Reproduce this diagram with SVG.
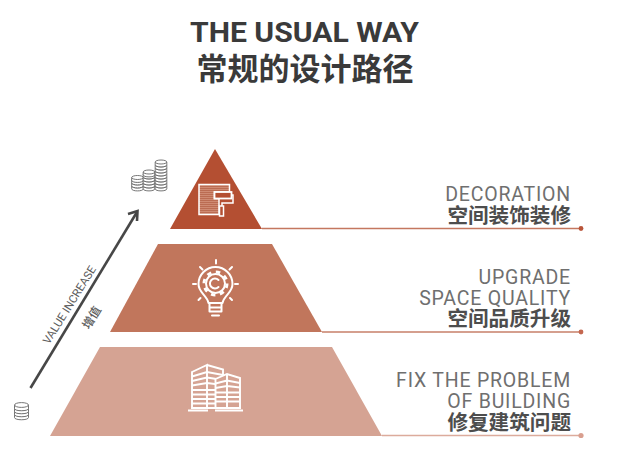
<svg xmlns="http://www.w3.org/2000/svg" width="639" height="462" viewBox="0 0 639 462">
<defs>
<style>
.t{font-family:"Roboto","Liberation Sans","Noto Sans CJK SC",sans-serif;fill:#4a4a4a}
.title{font-size:28px;font-weight:700;text-anchor:middle;fill:#3a3a3a}
.cn{font-family:"Noto Sans CJK SC",sans-serif;font-weight:700;fill:#4d4d4d}
.lb{font-size:19.5px;fill:#6f6f6f;text-anchor:end;letter-spacing:.8px}
.lc{font-size:20.6px;text-anchor:end}
.w{fill:none;stroke:#fff;stroke-width:2;stroke-linecap:round;stroke-linejoin:round}
.c{fill:#fff;stroke:#666;stroke-width:.9}
</style>
<pattern id="hatch" width="2" height="2" patternUnits="userSpaceOnUse"><rect width="2" height="2" fill="#cf8a72"/><rect width="2" height="1" fill="#bb6c52"/></pattern>
<g id="coin"><path class="c" d="M-5.800 0v2.800c0 2.800 11.600 2.800 11.600 0v-2.800"/><ellipse class="c" cx="0" cy="0" rx="5.800" ry="2"/></g>
<g id="coinS"><path class="c" d="M-7 0v3.500c0 3 14 3 14 0v-3.500"/><ellipse class="c" cx="0" cy="0" rx="7" ry="2.400"/></g>
</defs>
<g id="title">
<text class="t title" x="304.500" y="42" textLength="229" lengthAdjust="spacingAndGlyphs">THE USUAL WAY</text>
<text class="cn" x="305" y="80" font-size="31" text-anchor="middle" style="fill:#3a3a3a">常规的设计路径</text>
</g>
<g id="connectors" fill="none">
<path d="M262 228.500H581" stroke="#c4775f" stroke-width="1.600"/>
<circle cx="581" cy="228.500" r="2.400" fill="#b9553a"/>
<path d="M322 332H581" stroke="#c77f68" stroke-width="1.600"/>
<circle cx="581" cy="332" r="2.400" fill="#c4674f"/>
<path d="M382 435.500H581" stroke="#dcab9c" stroke-width="1.600"/>
<circle cx="581" cy="435.500" r="2.600" fill="#d99f8f"/>
<path d="M30.500 388L137 212" stroke="#474747" stroke-width="2.600"/>
<path d="M128 214L137.500 211L137 221" stroke="#474747" stroke-width="2.600" stroke-linejoin="miter"/>
</g>
<g id="node-top">
<path d="M215 149L262 229H170Z" fill="#b44f32"/>
<path d="M199 184.500H229.500V192H214.500V198.500H219V214.500H199Z" fill="url(#hatch)" stroke="#fff" stroke-width="1.500"/>
<rect x="214.500" y="192" width="17" height="6.500" fill="#b44f32" stroke="#fff" stroke-width="1.800"/>
<path d="M231.500 195H233V203H222V206" fill="none" stroke="#fff" stroke-width="1.500"/>
<rect x="219.500" y="206" width="4" height="10" fill="#b44f32" stroke="#fff" stroke-width="1.500"/>
</g>
<g id="node-middle">
<path d="M158 244H272L322 332H110Z" fill="#c1765c"/>
<g class="w">
<path d="M208.500 303C207 295 198.500 293 198.500 284A17 17 0 1 1 232.500 284C232.500 293 224 295 222.500 303Z"/>
<path d="M209.500 303V311.500H221.500V303M209.500 307.500H221.500M212 315.500H219"/>
<path d="M218.500 280A5 5 0 1 0 218.500 287"/>
<circle cx="215.500" cy="283.500" r="9.500"/>
<circle cx="215.500" cy="283.500" r="11.500" stroke-width="3" stroke-dasharray="4.400 4.630" style="stroke-width:3;stroke-linecap:butt"/>
<path d="M216 260V263.500M200 267L202.500 269.500M232 267L229.500 269.500M193 284H196M235 284H238M198.500 300L200.500 298M232 300L230 298"/>
</g>
</g>
<g id="node-bottom">
<path d="M100 347H332L382 436H50Z" fill="#d5a393"/>
<g fill="none" stroke="#fff" stroke-width="1.900">
<path d="M192 372L207 365V408H192Z"/>
<path d="M207 365L223 369.500V408H207"/>
<path d="M192 376.500L207 372L223 375M192 381L207 377.500L223 380M192 385.500L207 383L223 385M192 390H223M192 394.500H223M192 399H223M192 403.500H223"/>
<path d="M215.500 379L227 374L240 378V408H215.500Z" fill="#d5a393"/>
<path d="M227 374V408M215.500 383.500L227 380.500L240 383M215.500 388L227 386L240 387.500M215.500 392.500H240M215.500 397H240M215.500 401.500H240"/>
<path d="M188 410.500H208M215 410.500H243" stroke-width="2.200"/>
</g>
</g>
<g id="coins-large">
<use href="#coin" x="137.500" y="186"/><use href="#coin" x="137.500" y="183"/><use href="#coin" x="137.500" y="180"/><use href="#coin" x="137.500" y="177.500"/>
<use href="#coin" x="149" y="186"/><use href="#coin" x="149" y="183"/><use href="#coin" x="149" y="180"/><use href="#coin" x="149" y="177"/><use href="#coin" x="149" y="174"/><use href="#coin" x="149" y="172"/>
<use href="#coin" x="161" y="186"/><use href="#coin" x="161" y="183"/><use href="#coin" x="161" y="180"/><use href="#coin" x="161" y="177"/><use href="#coin" x="161" y="174"/><use href="#coin" x="161" y="171"/><use href="#coin" x="161" y="168"/><use href="#coin" x="161" y="165"/><use href="#coin" x="161" y="162"/>
</g>
<g id="coins-small">
<use href="#coinS" x="21.500" y="414"/><use href="#coinS" x="21.500" y="411"/><use href="#coinS" x="21.500" y="408"/><use href="#coinS" x="21.500" y="405"/>
</g>
<g id="label-arrow">
<text class="t" transform="translate(49 345) rotate(-58)" font-size="11.400" style="fill:#5c5c5c">VALUE INCREASE</text>
<text class="cn" transform="translate(89 330) rotate(-58)" font-size="12" style="fill:#5c5c5c;font-weight:500">增值</text>
</g>
<g id="label-top">
<text class="t lb" x="571" y="201">DECORATION</text>
<text class="cn lc" x="571" y="223">空间装饰装修</text>
</g>
<g id="label-middle">
<text class="t lb" x="571" y="284">UPGRADE</text>
<text class="t lb" x="571" y="305">SPACE QUALITY</text>
<text class="cn lc" x="571" y="326">空间品质升级</text>
</g>
<g id="label-bottom">
<text class="t lb" x="571" y="387">FIX THE PROBLEM</text>
<text class="t lb" x="571" y="408">OF BUILDING</text>
<text class="cn lc" x="571" y="430">修复建筑问题</text>
</g>
</svg>
